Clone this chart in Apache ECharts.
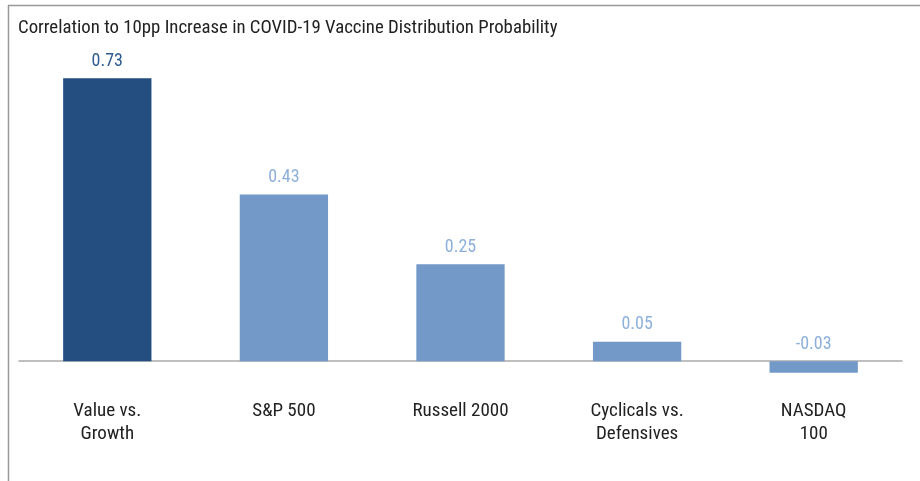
<!DOCTYPE html>
<html>
<head>
<meta charset="utf-8">
<script src="https://cdn.jsdelivr.net/npm/echarts@6/dist/echarts.min.js"></script>
<style>
  html, body { margin: 0; padding: 0; background: #fff; }
  #chart { width: 920px; height: 481px; }
</style>
</head>
<body>
<div id="chart"></div>
<script>
var categories = ["Value vs.\nGrowth", "S&P 500", "Russell 2000", "Cyclicals vs.\nDefensives", "NASDAQ\n100"];
var values = [0.73, 0.43, 0.25, 0.05, -0.03];
var barColors = ["#234e7f", "#7299c8", "#7299c8", "#7299c8", "#7299c8"];
var labelColors = ["#2d5a90", "#8eb0dc", "#8eb0dc", "#8eb0dc", "#8eb0dc"];

var fontName = "'Roboto Condensed', 'Arial Narrow', 'Roboto', sans-serif";

var myChart = echarts.init(document.getElementById("chart"));

var option = {
    animation: false,
    title: {
        text: "Correlation to 10pp Increase in COVID-19 Vaccine Distribution Probability",
        left: 13,
        top: 14,
        textStyle: {
            fontFamily: fontName,
            fontSize: 18.8,
            fontWeight: "normal",
            color: "#222"
        }
    },
    graphic: [
        { type: "line", shape: { x1: 8, y1: 5.5, x2: 920, y2: 5.5 }, style: { stroke: "#999", lineWidth: 1.5 } },
        { type: "line", shape: { x1: 8.5, y1: 5, x2: 8.5, y2: 481 }, style: { stroke: "#999", lineWidth: 1.5 } }
    ],
    grid: {
        left: 19,
        right: 18,
        top: 51,
        bottom: 81,
        outerBoundsMode: "none"
    },
    xAxis: {
        type: "category",
        data: categories,
        axisLine: { onZero: true, lineStyle: { color: "#aaa", width: 1.5 } },
        axisTick: { show: false },
        axisLabel: {
            margin: 0,
            fontFamily: fontName,
            fontSize: 19,
            lineHeight: 23,
            color: "#222"
        }
    },
    yAxis: {
        type: "value",
        min: -0.1,
        max: 0.8,
        show: false,
        splitLine: { show: false }
    },
    series: [
        {
            type: "bar",
            barWidth: "50%",
            data: values.map(function (v, i) {
                return {
                    value: v,
                    itemStyle: { color: barColors[i] },
                    label: { color: labelColors[i] }
                };
            }),
            label: {
                show: true,
                position: "top",
                distance: 8,
                fontFamily: fontName,
                fontSize: 18,
                formatter: function (p) { return p.value.toFixed(2); }
            }
        }
    ]
};

myChart.setOption(option);
</script>
</body>
</html>
